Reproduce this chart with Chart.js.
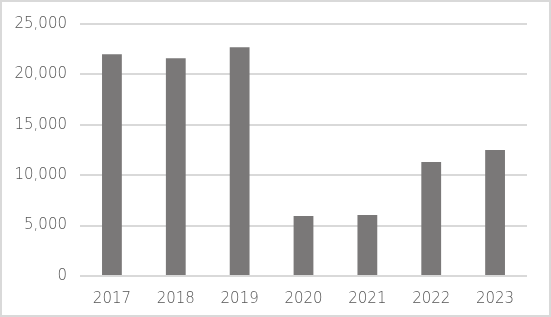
<!DOCTYPE html>
<html>
<head>
<meta charset="utf-8">
<script src="https://cdn.jsdelivr.net/npm/chart.js@4"></script>
<style>
  html, body { margin: 0; padding: 0; background: #fff; }
  #wrap { width: 551px; height: 317px; position: relative; }
</style>
</head>
<body>
<div id="wrap"><canvas id="yearChart" width="551" height="317"></canvas></div>
<script>
const years = ['2017', '2018', '2019', '2020', '2021', '2022', '2023'];
const values = [22000, 21600, 22700, 5950, 6050, 11300, 12500];
const yTicks = [0, 5000, 10000, 15000, 20000, 25000];

// light grey frame around the whole chart
const framePlugin = {
    id: 'frame',
    beforeDraw(chart) {
        const c = chart.ctx;
        c.save();
        c.fillStyle = '#ffffff';
        c.fillRect(0, 0, chart.width, chart.height);
        c.strokeStyle = '#d9d9d9';
        c.lineWidth = 2;
        c.strokeRect(1, 1, chart.width - 2, chart.height - 2);
        c.restore();
    }
};

const tickFont = { size: 15, weight: 200, family: "'DejaVu Sans', sans-serif" };

const ctx = document.getElementById('yearChart').getContext('2d');
new Chart(ctx, {
    type: 'bar',
    data: {
        labels: years,
        datasets: [{
            data: values,
            backgroundColor: '#7a7878',
            categoryPercentage: 1,
            barPercentage: 0.31
        }]
    },
    options: {
        responsive: false,
        animation: false,
        layout: { padding: { top: 24, right: 24, left: 0, bottom: 0 } },
        plugins: { legend: { display: false }, tooltip: { enabled: false } },
        scales: {
            x: {
                grid: { display: false },
                border: { display: false },
                ticks: { color: '#555555', font: tickFont, padding: 6 },
                afterFit(scale) { scale.height = 41; }
            },
            y: {
                min: 0,
                max: 25000,
                afterBuildTicks(scale) { scale.ticks = yTicks.map(v => ({ value: v })); },
                grid: { color: '#d9d9d9', lineWidth: 2, drawTicks: false },
                border: { display: false },
                ticks: {
                    color: '#555555',
                    font: tickFont,
                    padding: 13,
                    callback: v => v.toLocaleString('en-US')
                },
                afterFit(scale) { scale.width = 80; }
            }
        }
    },
    plugins: [framePlugin]
});
</script>
</body>
</html>
